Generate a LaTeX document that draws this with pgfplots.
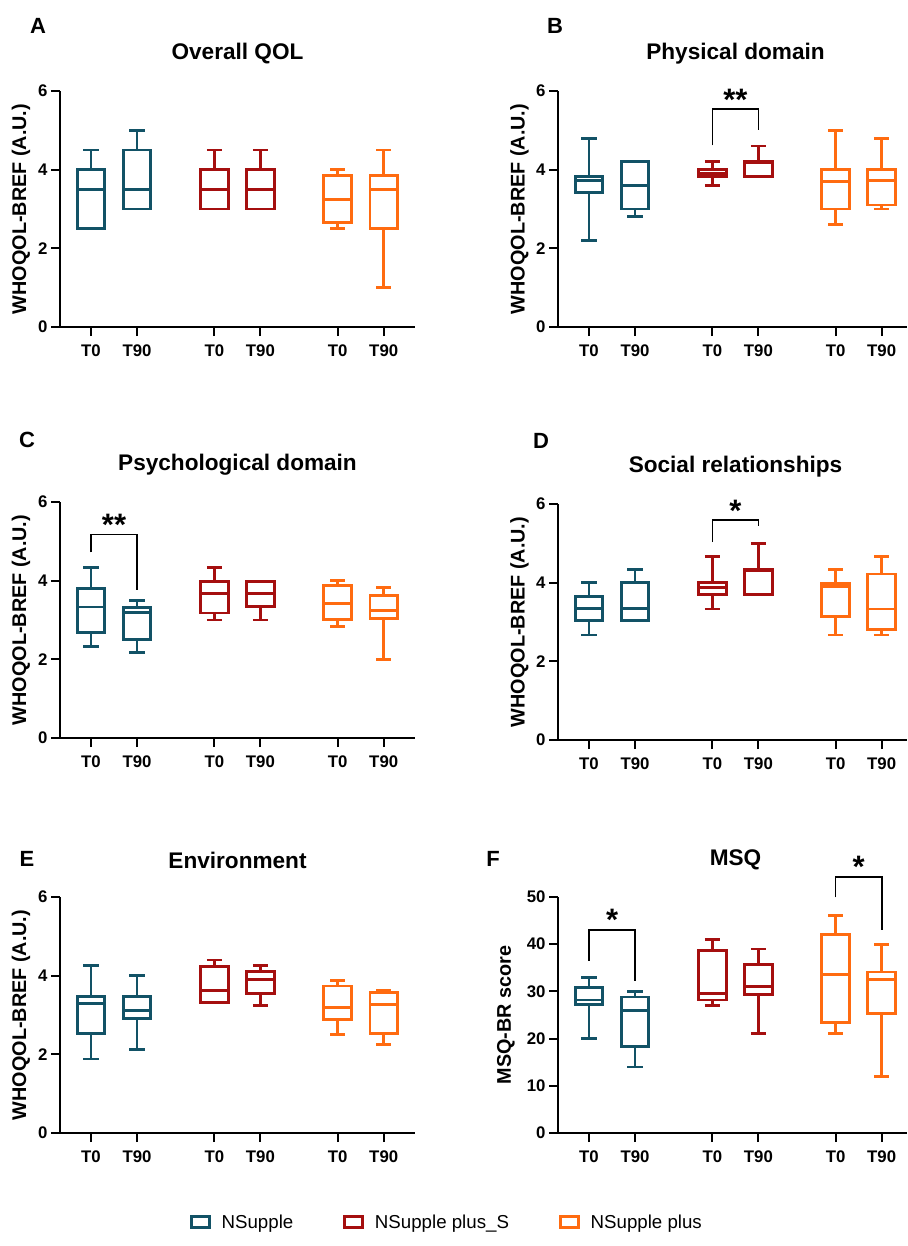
\documentclass[border=0pt]{standalone}
\usepackage{fontspec}
\setmainfont{Liberation Sans}
\usepackage{pgfplots}
\pgfplotsset{compat=1.18}
\usepgfplotslibrary{statistics}
\definecolor{cteal}{HTML}{125266}
\definecolor{cred}{HTML}{A50F0F}
\definecolor{corange}{HTML}{FF6B10}

\tikzset{
 brk/.style={black, line width=1.6pt},
 st/.style={font=\fontsize{31}{31}\selectfont\bfseries, anchor=center, yshift=-6.5pt},
}
\pgfplotsset{
 panel/.style={
  scale only axis, width=355pt, height=236pt,
  axis lines=left, axis line style={-, line width=2pt, black},
  xmin=-0.674, xmax=7.04, ymin=0, ymax=6,
  xtick={0,1,2.68,3.68,5.36,6.36}, xticklabels={T0,T90,T0,T90,T0,T90},
  ytick={0,2,4,6},
  tick align=outside, major tick length=9pt,
  tick style={line width=2pt, black},
  tick label style={font=\fontsize{16.8}{18}\selectfont\bfseries},
  xticklabel style={yshift=-5pt},
  /pgf/number format/assume math mode=true,
  ylabel={WHOQOL-BREF (A.U.)},
  ylabel style={at={(axis description cs:-0.110,0.5)}, anchor=center, font=\fontsize{19.8}{22}\selectfont\bfseries},
  title style={at={(axis description cs:0.5,1)}, anchor=center, yshift=31pt, font=\fontsize{22.6}{26}\selectfont\bfseries},
  clip=false,
  boxplot/draw direction=y,
  boxplot/box extend=0.6,
  boxplot/whisker extend=0.33,
  anchor=south west,
 },
 rpanel/.style={panel, width=349pt, xmax=6.91, title style={xshift=3pt}},
 bx/.style={line width=2.8pt, mark=none, solid},
}

\begin{document}
\begin{tikzpicture}
\useasboundingbox (0pt,0pt) rectangle (907pt,-1246pt);

% ---------------- A ----------------
\begin{axis}[panel, at={(60pt,-327pt)}, title={Overall QOL}]
\addplot[cteal, bx, boxplot prepared={draw position=0, lower whisker=2.5, lower quartile=2.5, median=3.5, upper quartile=4.0, upper whisker=4.5}] coordinates {};
\addplot[cteal, bx, boxplot prepared={draw position=1, lower whisker=3.0, lower quartile=3.0, median=3.5, upper quartile=4.5, upper whisker=5.0}] coordinates {};
\addplot[cred, bx, boxplot prepared={draw position=2.68, lower whisker=3.0, lower quartile=3.0, median=3.5, upper quartile=4.0, upper whisker=4.5}] coordinates {};
\addplot[cred, bx, boxplot prepared={draw position=3.68, lower whisker=3.0, lower quartile=3.0, median=3.5, upper quartile=4.0, upper whisker=4.5}] coordinates {};
\addplot[corange, bx, boxplot prepared={draw position=5.36, lower whisker=2.5, lower quartile=2.65, median=3.25, upper quartile=3.85, upper whisker=4.0}] coordinates {};
\addplot[corange, bx, boxplot prepared={draw position=6.36, lower whisker=1.0, lower quartile=2.5, median=3.5, upper quartile=3.85, upper whisker=4.5}] coordinates {};
\end{axis}

% ---------------- B ----------------
\begin{axis}[rpanel, at={(558pt,-327pt)}, title={Physical domain}]
\addplot[cteal, bx, boxplot prepared={draw position=0, lower whisker=2.2, lower quartile=3.42, median=3.72, upper quartile=3.82, upper whisker=4.8}] coordinates {};
\addplot[cteal, bx, boxplot prepared={draw position=1, lower whisker=2.8, lower quartile=3.0, median=3.6, upper quartile=4.2, upper whisker=4.2}] coordinates {};
\addplot[cred, bx, boxplot prepared={draw position=2.68, lower whisker=3.6, lower quartile=3.82, median=3.9, upper quartile=4.0, upper whisker=4.2}] coordinates {};
\addplot[cred, bx, boxplot prepared={draw position=3.68, lower whisker=3.82, lower quartile=3.82, median=4.18, upper quartile=4.2, upper whisker=4.6}] coordinates {};
\addplot[corange, bx, boxplot prepared={draw position=5.36, lower whisker=2.6, lower quartile=3.0, median=3.7, upper quartile=4.0, upper whisker=5.0}] coordinates {};
\addplot[corange, bx, boxplot prepared={draw position=6.36, lower whisker=3.0, lower quartile=3.1, median=3.72, upper quartile=4.0, upper whisker=4.8}] coordinates {};
\draw[brk] (axis cs:2.68,4.62) -- (axis cs:2.68,5.54) -- (axis cs:3.68,5.54) -- (axis cs:3.68,5.0);
\node[st] at (axis cs:3.18,5.95) {**};
\end{axis}

% ---------------- C ----------------
\begin{axis}[panel, at={(60pt,-738pt)}, title={Psychological domain}]
\addplot[cteal, bx, boxplot prepared={draw position=0, lower whisker=2.33, lower quartile=2.69, median=3.33, upper quartile=3.8, upper whisker=4.33}] coordinates {};
\addplot[cteal, bx, boxplot prepared={draw position=1, lower whisker=2.17, lower quartile=2.5, median=3.2, upper quartile=3.32, upper whisker=3.5}] coordinates {};
\addplot[cred, bx, boxplot prepared={draw position=2.68, lower whisker=3.0, lower quartile=3.18, median=3.67, upper quartile=3.97, upper whisker=4.33}] coordinates {};
\addplot[cred, bx, boxplot prepared={draw position=3.68, lower whisker=3.0, lower quartile=3.35, median=3.67, upper quartile=3.97, upper whisker=3.97}] coordinates {};
\addplot[corange, bx, boxplot prepared={draw position=5.36, lower whisker=2.83, lower quartile=3.02, median=3.42, upper quartile=3.87, upper whisker=4.0}] coordinates {};
\addplot[corange, bx, boxplot prepared={draw position=6.36, lower whisker=2.0, lower quartile=3.03, median=3.25, upper quartile=3.63, upper whisker=3.83}] coordinates {};
\draw[brk] (axis cs:0,4.72) -- (axis cs:0,5.17) -- (axis cs:1,5.17) -- (axis cs:1,3.76);
\node[st] at (axis cs:0.5,5.58) {**};
\end{axis}

% ---------------- D ----------------
\begin{axis}[rpanel, at={(558pt,-740pt)}, title={Social relationships}]
\addplot[cteal, bx, boxplot prepared={draw position=0, lower whisker=2.67, lower quartile=3.03, median=3.34, upper quartile=3.65, upper whisker=4.0}] coordinates {};
\addplot[cteal, bx, boxplot prepared={draw position=1, lower whisker=3.03, lower quartile=3.03, median=3.34, upper quartile=4.0, upper whisker=4.33}] coordinates {};
\addplot[cred, bx, boxplot prepared={draw position=2.68, lower whisker=3.33, lower quartile=3.7, median=3.87, upper quartile=4.0, upper whisker=4.67}] coordinates {};
\addplot[cred, bx, boxplot prepared={draw position=3.68, lower whisker=3.7, lower quartile=3.7, median=4.31, upper quartile=4.33, upper whisker=5.0}] coordinates {};
\addplot[corange, bx, boxplot prepared={draw position=5.36, lower whisker=2.67, lower quartile=3.13, median=3.9, upper quartile=3.98, upper whisker=4.33}] coordinates {};
\addplot[corange, bx, boxplot prepared={draw position=6.36, lower whisker=2.67, lower quartile=2.8, median=3.33, upper quartile=4.22, upper whisker=4.67}] coordinates {};
\draw[brk] (axis cs:2.68,5.03) -- (axis cs:2.68,5.6) -- (axis cs:3.68,5.6) -- (axis cs:3.68,5.45);
\node[st] at (axis cs:3.18,6.0) {*};
\end{axis}

% ---------------- E ----------------
\begin{axis}[panel, at={(60pt,-1133pt)}, title={Environment},
  legend style={draw=none, fill=none, at={(1.09,-0.377)}, anchor=center,
    legend columns=3, font=\fontsize{18.7}{20}\selectfont,
    /tikz/every odd column/.append style={column sep=9pt},
    /tikz/every even column/.append style={column sep=48pt}}]
\addlegendimage{cteal, line width=2.6pt, legend image code/.code={\draw (0pt,-5.5pt) rectangle (18pt,5.5pt);}}
\addlegendimage{cred, line width=2.6pt, legend image code/.code={\draw (0pt,-5.5pt) rectangle (18pt,5.5pt);}}
\addlegendimage{corange, line width=2.6pt, legend image code/.code={\draw (0pt,-5.5pt) rectangle (18pt,5.5pt);}}
\addplot[cteal, bx, boxplot prepared={draw position=0, lower whisker=1.88, lower quartile=2.53, median=3.29, upper quartile=3.48, upper whisker=4.25}] coordinates {};
\addplot[cteal, bx, boxplot prepared={draw position=1, lower whisker=2.13, lower quartile=2.91, median=3.12, upper quartile=3.47, upper whisker=4.0}] coordinates {};
\addplot[cred, bx, boxplot prepared={draw position=2.68, lower whisker=3.31, lower quartile=3.31, median=3.63, upper quartile=4.24, upper whisker=4.4}] coordinates {};
\addplot[cred, bx, boxplot prepared={draw position=3.68, lower whisker=3.25, lower quartile=3.54, median=3.9, upper quartile=4.11, upper whisker=4.25}] coordinates {};
\addplot[corange, bx, boxplot prepared={draw position=5.36, lower whisker=2.5, lower quartile=2.89, median=3.19, upper quartile=3.74, upper whisker=3.88}] coordinates {};
\addplot[corange, bx, boxplot prepared={draw position=6.36, lower whisker=2.25, lower quartile=2.53, median=3.27, upper quartile=3.57, upper whisker=3.63}] coordinates {};
\legend{NSupple, NSupple plus\_S, NSupple plus}
\end{axis}

% ---------------- F ----------------
\begin{axis}[rpanel, at={(558pt,-1133pt)}, title={MSQ}, ymax=50, ytick={0,10,20,30,40,50},
  ylabel={MSQ-BR score}, ylabel style={at={(axis description cs:-0.149,0.5)}}]
\addplot[cteal, bx, boxplot prepared={draw position=0, lower whisker=20, lower quartile=27.2, median=28.2, upper quartile=30.9, upper whisker=33}] coordinates {};
\addplot[cteal, bx, boxplot prepared={draw position=1, lower whisker=14, lower quartile=18.3, median=26, upper quartile=28.8, upper whisker=30}] coordinates {};
\addplot[cred, bx, boxplot prepared={draw position=2.68, lower whisker=27, lower quartile=28.2, median=29.6, upper quartile=38.7, upper whisker=41}] coordinates {};
\addplot[cred, bx, boxplot prepared={draw position=3.68, lower whisker=21, lower quartile=29.4, median=31.1, upper quartile=35.7, upper whisker=39}] coordinates {};
\addplot[corange, bx, boxplot prepared={draw position=5.36, lower whisker=21, lower quartile=23.4, median=33.6, upper quartile=42, upper whisker=46}] coordinates {};
\addplot[corange, bx, boxplot prepared={draw position=6.36, lower whisker=12, lower quartile=25.4, median=32.5, upper quartile=34.1, upper whisker=40}] coordinates {};
\draw[brk] (axis cs:0,36.5) -- (axis cs:0,43.0) -- (axis cs:1,43.0) -- (axis cs:1,32.2);
\node[st] at (axis cs:0.5,46.6) {*};
\draw[brk] (axis cs:5.36,49.9) -- (axis cs:5.36,54.3) -- (axis cs:6.36,54.3) -- (axis cs:6.36,43.0);
\node[st] at (axis cs:5.86,57.8) {*};
\end{axis}

% panel letters
\node[font=\fontsize{22}{24}\selectfont\bfseries] at (38pt,-26pt) {A};
\node[font=\fontsize{22}{24}\selectfont\bfseries] at (555pt,-26pt) {B};
\node[font=\fontsize{22}{24}\selectfont\bfseries] at (27pt,-440pt) {C};
\node[font=\fontsize{22}{24}\selectfont\bfseries] at (541pt,-441pt) {D};
\node[font=\fontsize{22}{24}\selectfont\bfseries] at (27pt,-859pt) {E};
\node[font=\fontsize{22}{24}\selectfont\bfseries] at (493pt,-859pt) {F};
\end{tikzpicture}
\end{document}
